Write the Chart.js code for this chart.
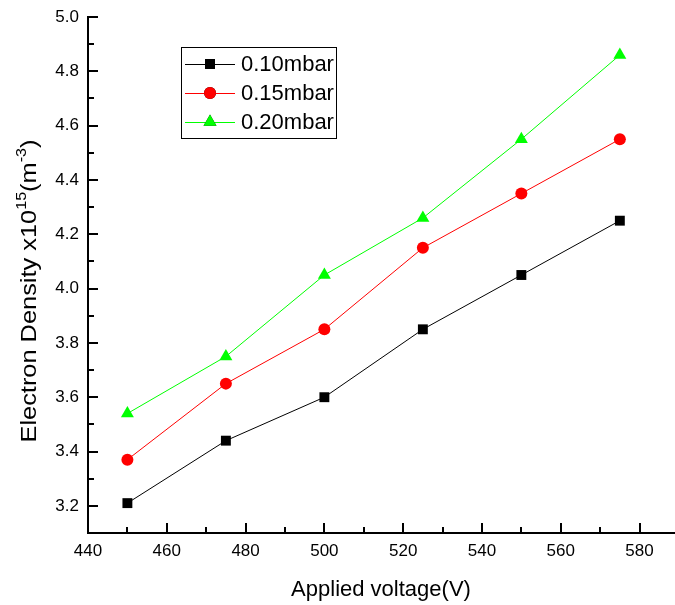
<!DOCTYPE html>
<html>
<head>
<meta charset="utf-8">
<script src="https://cdn.jsdelivr.net/npm/chart.js@4.4.1/dist/chart.umd.min.js"></script>
<style>
  html, body { margin: 0; padding: 0; background: #fff; }
  #wrap { width: 675px; height: 605px; }
</style>
</head>
<body>
<div id="wrap"><canvas id="chart" width="675" height="605"></canvas></div>
<script>
const voltages = [450, 475, 500, 525, 550, 575];
const density010 = [3.21, 3.44, 3.60, 3.85, 4.05, 4.25];
const density015 = [3.37, 3.65, 3.85, 4.15, 4.35, 4.55];
const density020 = [3.54, 3.75, 4.05, 4.26, 4.55, 4.86];
const xTicks = [440, 460, 480, 500, 520, 540, 560, 580];
const yTicks = [3.2, 3.4, 3.6, 3.8, 4.0, 4.2, 4.4, 4.6, 4.8, 5.0];
const seriesLabels = ['0.10mbar', '0.15mbar', '0.20mbar'];

const FONT = 'Arial, "Liberation Sans", sans-serif';

function toPoints(ys) {
    return voltages.map((v, i) => ({ x: v, y: ys[i] }));
}

function makeSet(label, data, color, style, radius) {
    return {
        label: label,
        data: toPoints(data),
        borderColor: color,
        backgroundColor: color,
        borderWidth: 1,
        pointStyle: style,
        pointRadius: radius,
        pointHoverRadius: radius,
        pointBorderWidth: 0,
        tension: 0
    };
}

// inward tick marks, minor ticks, legend and axis titles
const decorPlugin = {
    id: 'decor',
    afterDraw(chart) {
        const ctx = chart.ctx;
        const xs = chart.scales.x;
        const ys = chart.scales.y;
        const area = chart.chartArea;
        ctx.save();
        ctx.fillStyle = '#000';

        // x ticks (major + minor), pointing into the plot
        xTicks.forEach(t => {
            const px = Math.round(xs.getPixelForValue(t));
            ctx.fillRect(px - 1, area.bottom - 10, 2, 10);
            const mx = Math.round(xs.getPixelForValue(t + 10));
            if (mx < area.right) {
                ctx.fillRect(mx - 1, area.bottom - 6, 2, 6);
            }
        });

        // y ticks (major + minor)
        yTicks.forEach(t => {
            const py = Math.round(ys.getPixelForValue(t));
            ctx.fillRect(area.left, py - 1, 10, 2);
            const my = Math.round(ys.getPixelForValue(t - 0.1));
            ctx.fillRect(area.left, my - 1, 6, 2);
        });

        // legend
        const lx = 181, ly = 47, lw = 155, lh = 91;
        ctx.lineWidth = 1;
        ctx.strokeStyle = '#000';
        ctx.strokeRect(lx + 0.5, ly + 0.5, lw, lh);
        ctx.font = '22px ' + FONT;
        ctx.textBaseline = 'middle';
        ctx.textAlign = 'left';
        chart.data.datasets.forEach((ds, i) => {
            const cy = ly + 17 + i * 29;
            ctx.strokeStyle = ds.borderColor;
            ctx.beginPath();
            ctx.moveTo(lx + 4, cy + 0.5);
            ctx.lineTo(lx + 54, cy + 0.5);
            ctx.stroke();
            Chart.helpers.drawPoint(ctx, {
                pointStyle: ds.pointStyle,
                radius: ds.pointRadius,
                borderWidth: 0
            }, lx + 29, cy);
            ctx.fillStyle = ds.backgroundColor;
            ctx.fill();
            ctx.fillStyle = '#000';
            ctx.fillText(ds.label, lx + 60, cy + 1);
        });

        // x title
        ctx.fillStyle = '#000';
        ctx.font = '22px ' + FONT;
        ctx.textAlign = 'center';
        ctx.textBaseline = 'alphabetic';
        ctx.fillText('Applied voltage(V)', 381, 596);

        // y title with superscripts
        ctx.save();
        ctx.translate(36, 291);
        ctx.rotate(-Math.PI / 2);
        const parts = [
            { t: 'Electron Density x10', sup: false },
            { t: '15', sup: true },
            { t: '(m', sup: false },
            { t: '-3', sup: true },
            { t: ')', sup: false }
        ];
        const bigFont = '22px ' + FONT, smallFont = '14px ' + FONT;
        let total = 0;
        parts.forEach(p => {
            ctx.font = p.sup ? smallFont : bigFont;
            p.w = ctx.measureText(p.t).width;
            total += p.w;
        });
        ctx.scale(303 / total, 1);
        let cx = -total / 2;
        ctx.textAlign = 'left';
        parts.forEach(p => {
            ctx.font = p.sup ? smallFont : bigFont;
            ctx.fillText(p.t, cx, p.sup ? -10 : 0);
            cx += p.w;
        });
        ctx.restore();
        ctx.restore();
    }
};

new Chart(document.getElementById('chart'), {
    type: 'line',
    data: {
        datasets: [
            makeSet(seriesLabels[0], density010, '#000000', 'rect', 7),
            makeSet(seriesLabels[1], density015, '#ff0000', 'circle', 6),
            makeSet(seriesLabels[2], density020, '#00ff00', 'triangle', 7.5)
        ]
    },
    options: {
        responsive: false,
        animation: false,
        layout: { autoPadding: false, padding: { top: 17, right: 0, left: 0, bottom: 0 } },
        plugins: {
            legend: { display: false },
            tooltip: { enabled: false }
        },
        scales: {
            x: {
                type: 'linear',
                min: 440,
                max: 589,
                grid: { display: false, drawTicks: false },
                border: { display: true, color: '#000', width: 2 },
                afterBuildTicks: s => { s.ticks = xTicks.map(v => ({ value: v })); },
                afterFit: s => { s.height = 72; s.paddingLeft = 0; s.paddingRight = 0; },
                ticks: {
                    color: '#000',
                    font: { size: 17, family: FONT },
                    padding: 8,
                    maxRotation: 0,
                    autoSkip: false
                }
            },
            y: {
                type: 'linear',
                min: 3.1,
                max: 5.0,
                grid: { display: false, drawTicks: false },
                border: { display: true, color: '#000', width: 2 },
                afterBuildTicks: s => { s.ticks = yTicks.map(v => ({ value: v })); },
                afterFit: s => { s.width = 88; s.paddingTop = 0; s.paddingBottom = 0; },
                ticks: {
                    color: '#000',
                    font: { size: 17, family: FONT },
                    padding: 9,
                    autoSkip: false,
                    callback: v => v.toFixed(1)
                }
            }
        }
    },
    plugins: [decorPlugin]
});
</script>
</body>
</html>
